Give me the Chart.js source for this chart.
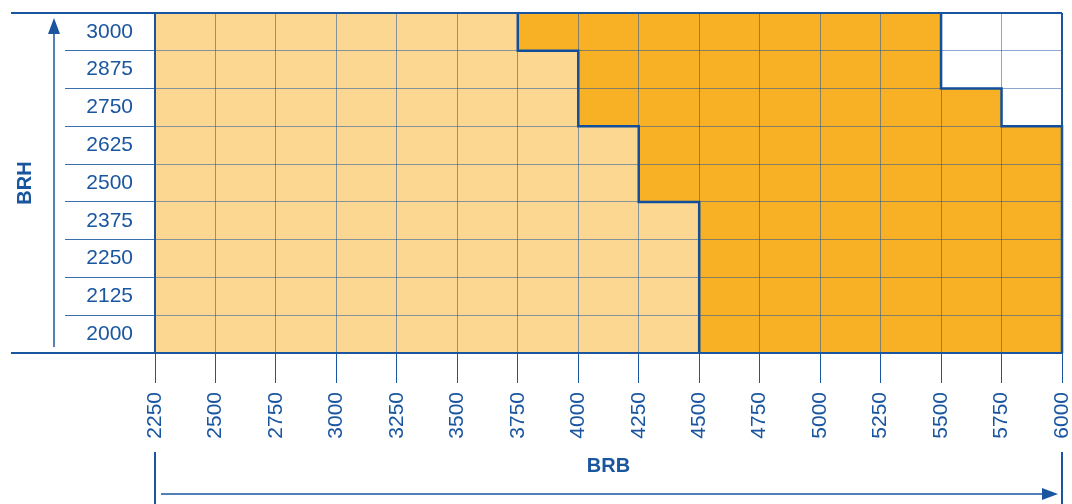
<!DOCTYPE html>
<html>
<head>
<meta charset="utf-8">
<script src="https://cdn.jsdelivr.net/npm/chart.js@4.4.1/dist/chart.umd.min.js"></script>
<style>
  html, body { margin: 0; padding: 0; background: #fff; }
  canvas { display: block; }
</style>
</head>
<body>
<canvas id="grid" width="1072" height="504"></canvas>
<script>
// -------------------------------
// Data
// -------------------------------
const brhLabels = ['3000', '2875', '2750', '2625', '2500', '2375', '2250', '2125', '2000'];
const brbTicks = [2250, 2500, 2750, 3000, 3250, 3500, 3750, 4000, 4250, 4500, 4750, 5000, 5250, 5500, 5750, 6000];
// where the dark range starts / ends on each row (top row first)
const darkStart = [3750, 4000, 4000, 4250, 4250, 4500, 4500, 4500, 4500];
const darkEnd = [5500, 5500, 5750, 6000, 6000, 6000, 6000, 6000, 6000];

const BLUE = '#1a56a0';
const LIGHT = '#fcd792';
const DARK = '#f8b124';

const brbMin = brbTicks[0];
const brbMax = brbTicks[brbTicks.length - 1];

// step outline along row edges, in row units (0 = bottom edge)
function stepLine(edges) {
    const pts = [];
    edges.forEach((x, i) => {
        pts.push({ x: x, y: brhLabels.length - i });
        pts.push({ x: x, y: brhLabels.length - i - 1 });
    });
    return pts;
}

// -------------------------------
// Frame, arrows and outer rules
// -------------------------------
const frame = {
    id: 'frame',
    afterDraw(chart) {
        const { ctx, chartArea: a } = chart;
        const line = (x1, y1, x2, y2) => {
            ctx.beginPath(); ctx.moveTo(x1, y1); ctx.lineTo(x2, y2); ctx.stroke();
        };
        ctx.save();
        ctx.strokeStyle = BLUE;
        ctx.fillStyle = BLUE;
        ctx.lineWidth = 2;
        line(11, a.top, a.right, a.top);
        line(11, a.bottom, a.right, a.bottom);
        line(a.right, a.top, a.right, a.bottom);
        line(a.left, 452, a.left, 504);
        line(a.right, 452, a.right, 504);

        // BRH arrow
        ctx.lineWidth = 1.5;
        line(54, a.bottom - 6, 54, a.top + 18);
        ctx.beginPath();
        ctx.moveTo(54, a.top + 5); ctx.lineTo(60, a.top + 21); ctx.lineTo(48, a.top + 21);
        ctx.closePath(); ctx.fill();

        // BRB arrow
        line(a.left + 6, 494, a.right - 16, 494);
        ctx.beginPath();
        ctx.moveTo(a.right - 4, 494); ctx.lineTo(a.right - 20, 488); ctx.lineTo(a.right - 20, 500);
        ctx.closePath(); ctx.fill();
        ctx.restore();
    }
};

// -------------------------------
// Chart.js Setup
// -------------------------------
const ctx = document.getElementById('grid').getContext('2d');
new Chart(ctx, {
    type: 'bar',
    data: {
        labels: brhLabels,
        datasets: [
            {
                label: 'light',
                data: darkStart.map(v => [brbMin, v]),
                backgroundColor: LIGHT,
                grouped: false,
                order: 3
            },
            {
                label: 'dark',
                data: darkStart.map((v, i) => [v, darkEnd[i]]),
                backgroundColor: DARK,
                grouped: false,
                order: 2
            },
            {
                type: 'line',
                label: 'darkEdge',
                indexAxis: 'x',
                xAxisID: 'x',
                yAxisID: 'yRows',
                data: stepLine(darkStart),
                borderColor: '#0f4f9c',
                borderWidth: 2.5,
                pointRadius: 0,
                clip: 4,
                order: 0
            },
            {
                type: 'line',
                label: 'emptyEdge',
                indexAxis: 'x',
                xAxisID: 'x',
                yAxisID: 'yRows',
                data: stepLine(darkEnd),
                borderColor: '#0f4f9c',
                borderWidth: 2.5,
                pointRadius: 0,
                clip: 4,
                order: 0
            }
        ]
    },
    options: {
        indexAxis: 'y',
        responsive: false,
        animation: false,
        barPercentage: 1,
        categoryPercentage: 1,
        layout: { padding: { top: 13, right: 10, left: 0, bottom: 0 } },
        plugins: {
            legend: { display: false },
            tooltip: { enabled: false }
        },
        scales: {
            x: {
                type: 'linear',
                position: 'bottom',
                min: brbMin,
                max: brbMax,
                afterBuildTicks: s => { s.ticks = brbTicks.map(v => ({ value: v })); },
                afterFit: s => { s.height = 151; s.paddingLeft = 0; s.paddingRight = 0; },
                grid: {
                    z: 1,
                    color: 'rgba(20, 80, 160, 0.5)',
                    tickColor: BLUE,
                    tickLength: 30,
                    lineWidth: 1
                },
                border: { display: false },
                ticks: {
                    autoSkip: false,
                    minRotation: 90,
                    maxRotation: 90,
                    padding: 9,
                    color: BLUE,
                    font: { family: 'Liberation Sans', size: 21 },
                    callback: v => String(v)
                },
                title: {
                    display: true,
                    text: 'BRB',
                    color: BLUE,
                    padding: { bottom: 26, top: 0 },
                    font: { family: 'Liberation Sans', size: 20, weight: 'bold' }
                }
            },
            y: {
                type: 'category',
                position: 'left',
                afterFit: s => { s.width = 155; s.paddingTop = 0; s.paddingBottom = 0; },
                grid: {
                    z: 1,
                    offset: true,
                    color: 'rgba(20, 80, 160, 0.5)',
                    tickColor: 'rgba(26, 86, 160, 0.85)',
                    tickLength: 90,
                    lineWidth: 1
                },
                border: { display: true, color: BLUE, width: 2, z: 2 },
                ticks: {
                    padding: -68,
                    crossAlign: 'near',
                    color: BLUE,
                    font: { family: 'Liberation Sans', size: 21 }
                },
                title: {
                    display: true,
                    text: 'BRH',
                    color: BLUE,
                    padding: { top: 13, bottom: 0 },
                    font: { family: 'Liberation Sans', size: 20, weight: 'bold' }
                }
            },
            yRows: {
                type: 'linear',
                axis: 'y',
                position: 'left',
                display: false,
                offset: false,
                min: 0,
                max: brhLabels.length
            }
        }
    },
    plugins: [frame]
});
</script>
</body>
</html>
